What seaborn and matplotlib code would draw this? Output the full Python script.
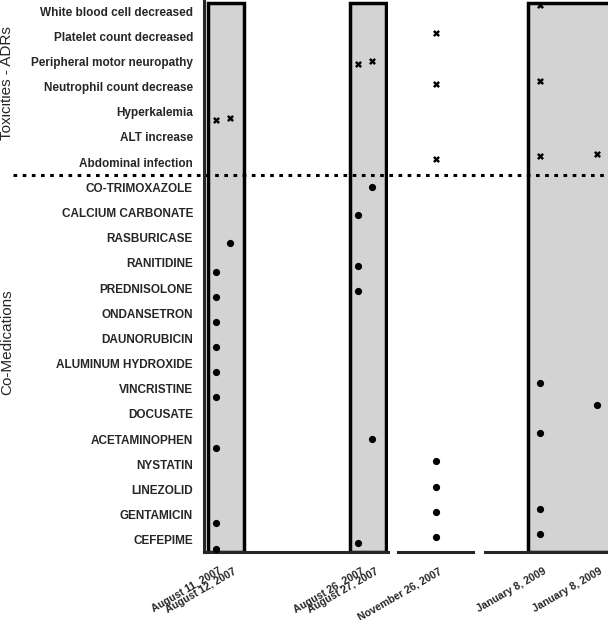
import matplotlib
matplotlib.use("Agg")
import matplotlib.pyplot as plt
import seaborn as sns
import pandas as pd
from matplotlib.lines import Line2D

# rows of the chart (top to bottom)
adr_items = ["White blood cell decreased", "Platelet count decreased",
             "Peripheral motor neuropathy", "Neutrophil count decrease",
             "Hyperkalemia", "ALT increase", "Abdominal infection"]
med_items = ["CO-TRIMOXAZOLE", "CALCIUM CARBONATE", "RASBURICASE", "RANITIDINE",
             "PREDNISOLONE", "ONDANSETRON", "DAUNORUBICIN", "ALUMINUM HYDROXIDE",
             "VINCRISTINE", "DOCUSATE", "ACETAMINOPHEN", "NYSTATIN", "LINEZOLID",
             "GENTAMICIN", "CEFEPIME"]

# visits on the (broken) time axis
visit_keys = ["2007-08-11", "2007-08-12", "2007-08-26", "2007-08-27",
              "2007-11-26", "2009-01-08a", "2009-01-08b"]
visit_labels = ["August 11, 2007", "August 12, 2007", "August 26, 2007",
                "August 27, 2007", "November 26, 2007", "January 8, 2009",
                "January 8, 2009"]
visit_x = [0, 1, 10, 11, 20, 30, 34]

# what was recorded at each visit
aug11_adr = ["Hyperkalemia"]
aug11_med = ["RANITIDINE", "PREDNISOLONE", "ONDANSETRON", "DAUNORUBICIN",
             "ALUMINUM HYDROXIDE", "VINCRISTINE", "ACETAMINOPHEN", "GENTAMICIN",
             "CEFEPIME"]
aug12_adr = ["Hyperkalemia"]
aug12_med = ["RASBURICASE"]
aug26_adr = ["Peripheral motor neuropathy"]
aug26_med = ["CALCIUM CARBONATE", "RANITIDINE", "PREDNISOLONE", "CEFEPIME"]
aug27_adr = ["Peripheral motor neuropathy"]
aug27_med = ["CO-TRIMOXAZOLE", "ACETAMINOPHEN"]
nov26_adr = ["Platelet count decreased", "Neutrophil count decrease", "Abdominal infection"]
nov26_med = ["NYSTATIN", "LINEZOLID", "GENTAMICIN", "CEFEPIME"]
jan8a_adr = ["White blood cell decreased", "Neutrophil count decrease", "Abdominal infection"]
jan8a_med = ["VINCRISTINE", "ACETAMINOPHEN", "GENTAMICIN", "CEFEPIME"]
jan8b_adr = ["Abdominal infection"]
jan8b_med = ["DOCUSATE"]

# shaded admission periods (x units)
period_start = [-0.6, 9.4, 29.2]
period_end = [2.0, 12.0, 36.0]

adr_lists = [aug11_adr, aug12_adr, aug26_adr, aug27_adr, nov26_adr, jan8a_adr, jan8b_adr]
med_lists = [aug11_med, aug12_med, aug26_med, aug27_med, nov26_med, jan8a_med, jan8b_med]

rows = []
for key, x, adrs, meds in zip(visit_keys, visit_x, adr_lists, med_lists):
    for it in adrs:
        rows.append({"visit": key, "x": x, "item": it, "kind": "ADR"})
    for it in meds:
        rows.append({"visit": key, "x": x, "item": it, "kind": "Med"})
df = pd.DataFrame(rows)

items = adr_items + med_items

sns.set_style("white")
plt.rcParams["font.family"] = ["Liberation Sans", "DejaVu Sans"]

W, H = 608, 620
fig = plt.figure(figsize=(W / 100, H / 100), dpi=100)

segments = [(-0.85, 12.1), (17.32, 22.6), (26.13, 34.85)]
major_ticks = [[0, 5, 10], [20], [30, 34]]
minor_ticks = [[12.1], [17.32, 22.6], [26.13]]
px_per_unit = 14.2
gaps = [10, 12]
x_px = 204
bottom, height = 68 / H, 552 / H

pal = {k: "black" for k in visit_keys}
axes = []
for i, (lo, hi) in enumerate(segments):
    w = (hi - lo) * px_per_unit
    ax = fig.add_axes([x_px / W, bottom, w / W, height])
    if i < len(gaps):
        x_px += w + gaps[i]
    axes.append(ax)

    for s, e in zip(period_start, period_end):
        ax.axvspan(s, e, ymin=0, ymax=0.995, facecolor="#d3d3d3",
                   edgecolor="black", linewidth=2.5, zorder=0)

    sns.stripplot(data=df[df["kind"] == "ADR"], x="x", y="item", hue="visit",
                  order=items, hue_order=visit_keys[::-1], palette=pal,
                  dodge=True, jitter=False, marker="X", size=5, linewidth=0,
                  legend=False, orient="h", ax=ax, zorder=3)
    sns.stripplot(data=df[df["kind"] == "Med"], x="x", y="item", hue="visit",
                  order=items, hue_order=visit_keys[::-1], palette=pal,
                  dodge=True, jitter=False, marker="o", size=5.2, linewidth=0,
                  legend=False, orient="h", ax=ax, zorder=3)

    ax.set_xlim(lo, hi)
    ax.set_ylim(21.48, -0.44)
    ax.set(xlabel="", ylabel="")
    for side in ["top", "right"]:
        ax.spines[side].set_visible(False)
    ax.spines["bottom"].set_linewidth(2.2)
    ax.spines["left"].set_linewidth(2.2)
    ax.set_xticks(major_ticks[i])
    ax.set_xticks(minor_ticks[i], minor=True)
    ax.tick_params(axis="x", which="major", direction="out", length=3,
                   width=1.6, labelbottom=False)
    ax.tick_params(axis="x", which="minor", direction="inout", length=7, width=2)
    if i == 0:
        ax.tick_params(axis="y", direction="out", length=3.5, width=1.6,
                       labelsize=8.5, pad=4.5)
        for lbl in ax.get_yticklabels():
            lbl.set_fontweight("bold")
    else:
        ax.spines["left"].set_visible(False)
        ax.tick_params(axis="y", left=False, labelleft=False)

# date labels under the broken axis
for lab, x in zip(visit_labels, visit_x):
    for ax, (lo, hi) in zip(axes, segments):
        if lo <= x <= hi:
            ax.text(x + 0.2, -14 / 552, lab, transform=ax.get_xaxis_transform(),
                    rotation=30, rotation_mode="anchor", ha="right", va="top",
                    fontsize=7.6, fontweight="bold", clip_on=False)

# dotted separator between ADRs and co-medications
y_disp = axes[0].transData.transform((0, len(adr_items) - 0.5))[1]
y_fig = fig.transFigure.inverted().transform((0, y_disp))[1]
fig.add_artist(Line2D([13 / W, 1], [y_fig, y_fig], transform=fig.transFigure,
                      color="black", linewidth=2.2, linestyle=(0, (1.2, 1.8))))

fig.text(7 / W, 1 - 83 / H, "Toxicities - ADRs", rotation=90, ha="center",
         va="center", fontsize=11)
fig.text(7 / W, 1 - 342 / H, "Co-Medications", rotation=90, ha="center",
         va="center", fontsize=11)

fig.savefig("out.png", dpi=100)
